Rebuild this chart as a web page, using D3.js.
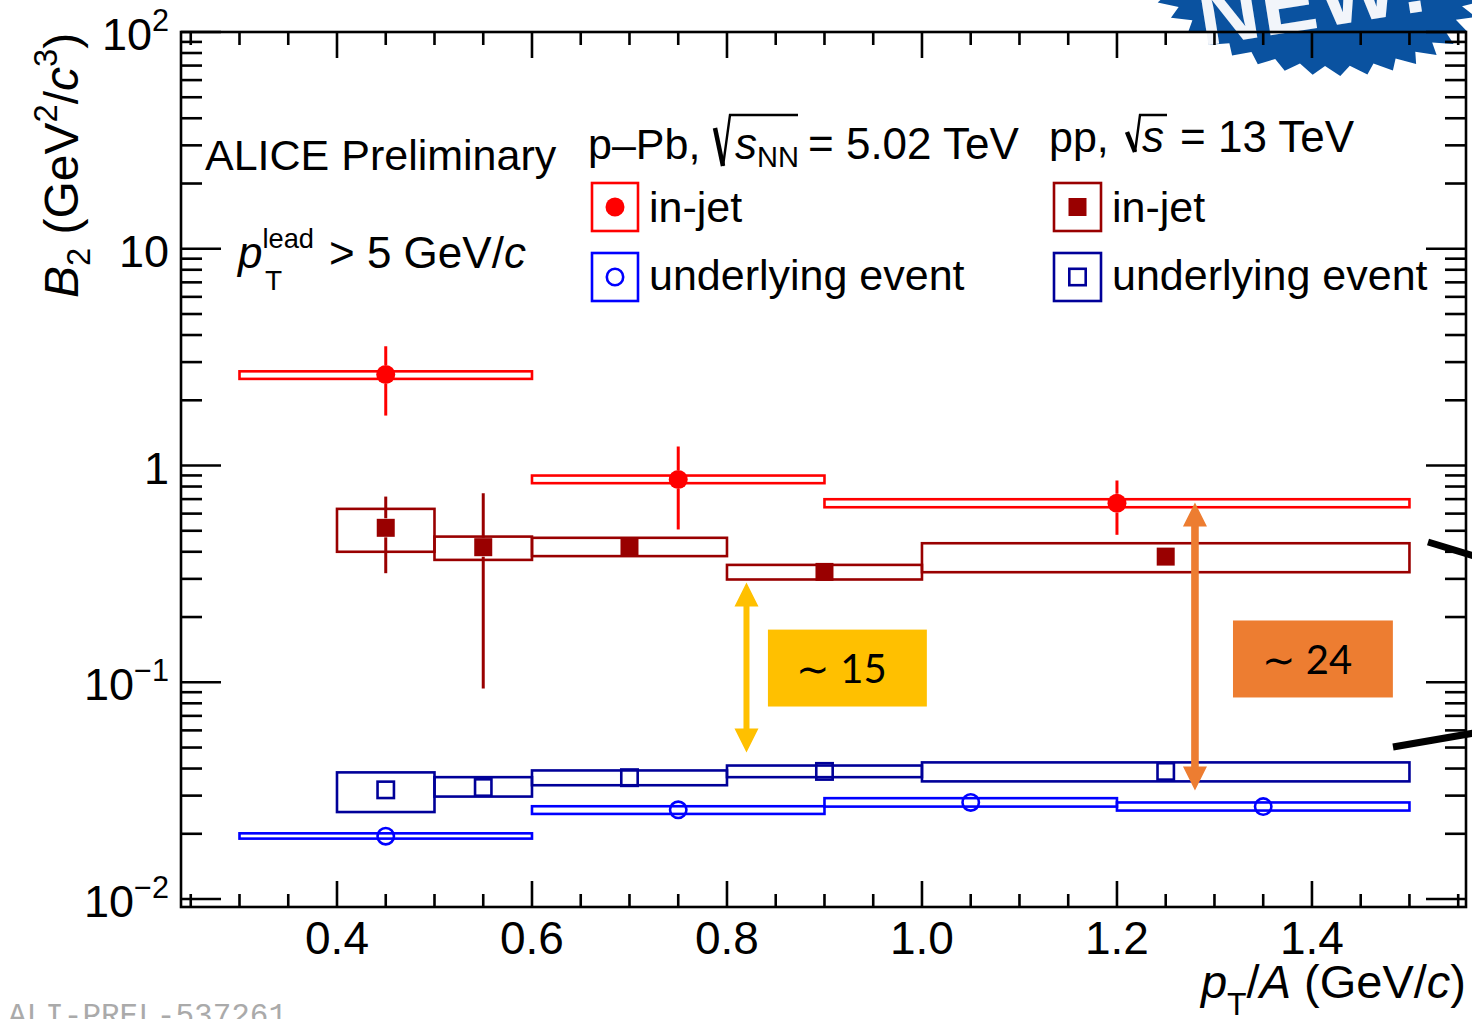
<!DOCTYPE html>
<html>
<head>
<meta charset="utf-8">
<script src="https://cdn.jsdelivr.net/npm/d3@7"></script>
<style>
  html, body { margin: 0; padding: 0; background: #fff; overflow: hidden; }
  svg { display: block; }
</style>
</head>
<body>
<svg id="chart" width="1472" height="1019"></svg>
<script>
// ---------------- data ----------------
// p–Pb, in-jet (filled circles)
const ppbJetX      = [0.45, 0.75, 1.20];
const ppbJetBinLo  = [0.30, 0.60, 0.90];
const ppbJetBinHi  = [0.60, 0.90, 1.50];
const ppbJetB2     = [2.63, 0.862, 0.670];
const ppbJetStatLo = [1.70, 0.507, 0.479];
const ppbJetStatHi = [3.55, 1.224, 0.853];
const ppbJetSysLo  = [2.51, 0.829, 0.642];
const ppbJetSysHi  = [2.72, 0.899, 0.699];

// p–Pb, underlying event (open circles)
const ppbUeX      = [0.45, 0.75, 1.05, 1.35];
const ppbUeBinLo  = [0.30, 0.60, 0.90, 1.20];
const ppbUeBinHi  = [0.60, 0.90, 1.20, 1.50];
const ppbUeB2     = [0.0195, 0.0258, 0.0279, 0.0267];
const ppbUeStatLo = [0.0190, 0.0252, 0.0272, 0.0261];
const ppbUeStatHi = [0.0200, 0.0264, 0.0286, 0.0273];
const ppbUeSysLo  = [0.0190, 0.0247, 0.0267, 0.0256];
const ppbUeSysHi  = [0.0201, 0.0268, 0.0292, 0.0279];

// pp, in-jet (filled squares)
const ppJetX      = [0.45, 0.55, 0.70, 0.90, 1.25];
const ppJetBinLo  = [0.40, 0.50, 0.60, 0.80, 1.00];
const ppJetBinHi  = [0.50, 0.60, 0.80, 1.00, 1.50];
const ppJetB2     = [0.516, 0.420, 0.420, 0.323, 0.380];
const ppJetStatLo = [0.3186, 0.0936, 0.395, 0.305, 0.360];
const ppJetStatHi = [0.719, 0.745, 0.445, 0.341, 0.400];
const ppJetSysLo  = [0.400, 0.367, 0.382, 0.298, 0.322];
const ppJetSysHi  = [0.631, 0.470, 0.464, 0.348, 0.438];

// pp, underlying event (open squares)
const ppUeX      = [0.45, 0.55, 0.70, 0.90, 1.25];
const ppUeBinLo  = [0.40, 0.50, 0.60, 0.80, 1.00];
const ppUeBinHi  = [0.50, 0.60, 0.80, 1.00, 1.50];
const ppUeB2     = [0.0319, 0.0327, 0.0363, 0.0388, 0.0388];
const ppUeStatLo = [0.0310, 0.0318, 0.0354, 0.0379, 0.0379];
const ppUeStatHi = [0.0328, 0.0336, 0.0372, 0.0397, 0.0397];
const ppUeSysLo  = [0.0252, 0.0297, 0.0335, 0.0365, 0.0349];
const ppUeSysHi  = [0.0384, 0.0365, 0.0392, 0.0413, 0.0427];

// axis ticks
const xMajorTicks  = [0.4, 0.6, 0.8, 1.0, 1.2, 1.4];
const xTickLabels  = ["0.4", "0.6", "0.8", "1.0", "1.2", "1.4"];
const yMajorTicks  = [0.01, 0.1, 1, 10, 100];
const yTickMantissa = ["10", "10", "1", "10", "10"];
const yTickExponent = ["\u22122", "\u22121", "", "", "2"];

// ratio annotations (x position, arrow ends, label box, text)
const ratioArrowX    = [0.82, 1.28];
const ratioArrowTop  = [0.289, 0.675];
const ratioArrowBot  = [0.0474, 0.0317];
const ratioBoxX0     = [0.842, 1.319];
const ratioBoxX1     = [1.005, 1.483];
const ratioBoxYTop   = [0.175, 0.1928];
const ratioBoxYBot   = [0.0773, 0.0851];
const ratioText      = ["\u223C 15", "\u223C 24"];
const ratioColors    = ["#ffc000", "#ed7d31"];

// ---------------- layout ----------------
const FONT = "'Liberation Sans', Arial, Helvetica, sans-serif";
const frame = { left: 181, right: 1466, top: 32, bottom: 907 };
const svg = d3.select("#chart");
svg.append("rect").attr("width", 1472).attr("height", 1019).attr("fill", "#fff");

const x = d3.scaleLinear().domain([0.24, 1.558]).range([frame.left, frame.right]);
const y = d3.scaleLog().domain([0.00919, 100]).range([frame.bottom, frame.top]);

// rich text helper: parts = [{t, i (italic), off (baseline offset), s (scale)}]
function rich(g, px, py, parts, size, anchor) {
  const t = g.append("text")
    .attr("x", px).attr("y", py)
    .attr("font-family", FONT)
    .attr("font-size", size)
    .attr("text-anchor", anchor || "start")
    .attr("fill", "#000");
  let cur = 0;
  parts.forEach(p => {
    const off = p.off || 0;
    const ts = t.append("tspan").text(p.t)
      .attr("dy", off - cur)
      .attr("font-size", size * (p.s || 1));
    if (p.i) ts.attr("font-style", "italic");
    cur = off;
  });
  return t;
}

// ---------------- badge (top right) ----------------
const badge = svg.append("g");
{
  const N = 38, pts = [];
  for (let i = 0; i < 2 * N; i++) {
    const a = i * Math.PI / N;
    const r = i % 2 === 0 ? 1 : 0.9;
    pts.push([Math.cos(a) * r, Math.sin(a) * r]);
  }
  badge.append("path")
    .attr("d", d3.line()(pts) + "Z")
    .attr("transform", "translate(1312,-22) rotate(8) scale(170,96)")
    .attr("fill", "#0a52a0");
  badge.append("text")
    .attr("transform", "translate(1203,46) rotate(-9)")
    .attr("font-family", FONT)
    .attr("font-weight", "bold")
    .attr("font-size", 84)
    .attr("letter-spacing", 2)
    .attr("fill", "#f2f5fa")
    .text("NEW!");
}

// ---------------- data drawing ----------------
const series = [
  { name: "ppbJet", color: "#ff0000", marker: "circle", filled: true,
    xs: ppbJetX, lo: ppbJetBinLo, hi: ppbJetBinHi, v: ppbJetB2,
    sLo: ppbJetStatLo, sHi: ppbJetStatHi, yLo: ppbJetSysLo, yHi: ppbJetSysHi },
  { name: "ppbUe", color: "#0000ff", marker: "circle", filled: false,
    xs: ppbUeX, lo: ppbUeBinLo, hi: ppbUeBinHi, v: ppbUeB2,
    sLo: ppbUeStatLo, sHi: ppbUeStatHi, yLo: ppbUeSysLo, yHi: ppbUeSysHi },
  { name: "ppJet", color: "#990000", marker: "square", filled: true,
    xs: ppJetX, lo: ppJetBinLo, hi: ppJetBinHi, v: ppJetB2,
    sLo: ppJetStatLo, sHi: ppJetStatHi, yLo: ppJetSysLo, yHi: ppJetSysHi },
  { name: "ppUe", color: "#000099", marker: "square", filled: false,
    xs: ppUeX, lo: ppUeBinLo, hi: ppUeBinHi, v: ppUeB2,
    sLo: ppUeStatLo, sHi: ppUeStatHi, yLo: ppUeSysLo, yHi: ppUeSysHi }
];

const plot = svg.append("g");

// systematic boxes
series.forEach(s => {
  plot.append("g").selectAll("rect").data(s.v).join("rect")
    .attr("x", (d, i) => x(s.lo[i]))
    .attr("width", (d, i) => x(s.hi[i]) - x(s.lo[i]))
    .attr("y", (d, i) => y(s.yHi[i]))
    .attr("height", (d, i) => y(s.yLo[i]) - y(s.yHi[i]))
    .attr("fill", "none")
    .attr("stroke", s.color)
    .attr("stroke-width", 2.6);
});

function drawMarker(g, cx, cy, s) {
  if (s.marker === "circle") {
    if (s.filled) {
      g.append("circle").attr("cx", cx).attr("cy", cy).attr("r", 9.5).attr("fill", s.color);
    } else {
      g.append("circle").attr("cx", cx).attr("cy", cy).attr("r", 8.2)
        .attr("fill", "none").attr("stroke", s.color).attr("stroke-width", 2.6);
    }
  } else {
    if (s.filled) {
      g.append("rect").attr("x", cx - 9).attr("y", cy - 9).attr("width", 18).attr("height", 18).attr("fill", s.color);
    } else {
      g.append("rect").attr("x", cx - 8.2).attr("y", cy - 8.2).attr("width", 16.4).attr("height", 16.4)
        .attr("fill", "none").attr("stroke", s.color).attr("stroke-width", 2.6);
    }
  }
}

// statistical error bars (drawn outside the marker) and markers
series.forEach(s => {
  const g = plot.append("g");
  const half = 9.5;
  s.v.forEach((v, i) => {
    const cx = x(s.xs[i]), cy = y(v);
    const yt = y(s.sHi[i]), yb = y(s.sLo[i]);
    if (cy - half > yt) g.append("line").attr("x1", cx).attr("x2", cx).attr("y1", yt).attr("y2", cy - half)
      .attr("stroke", s.color).attr("stroke-width", 3);
    if (yb > cy + half) g.append("line").attr("x1", cx).attr("x2", cx).attr("y1", cy + half).attr("y2", yb)
      .attr("stroke", s.color).attr("stroke-width", 3);
    drawMarker(g, cx, cy, s);
  });
});

// ratio annotations
const ann = svg.append("g");
ratioArrowX.forEach((ax, i) => {
  const cx = x(ax), y0 = y(ratioArrowTop[i]), y1 = y(ratioArrowBot[i]);
  const hl = 24, hw = 12, sw = i === 0 ? 3 : 3.8;
  const p = [
    [cx, y0], [cx + hw, y0 + hl], [cx + sw, y0 + hl], [cx + sw, y1 - hl], [cx + hw, y1 - hl],
    [cx, y1], [cx - hw, y1 - hl], [cx - sw, y1 - hl], [cx - sw, y0 + hl], [cx - hw, y0 + hl]
  ];
  ann.append("path").attr("d", d3.line()(p) + "Z").attr("fill", ratioColors[i]);
  const bx0 = x(ratioBoxX0[i]), bx1 = x(ratioBoxX1[i]);
  const by0 = y(ratioBoxYTop[i]), by1 = y(ratioBoxYBot[i]);
  ann.append("rect").attr("x", bx0).attr("y", by0).attr("width", bx1 - bx0).attr("height", by1 - by0)
    .attr("fill", ratioColors[i]);
  ann.append("text")
    .attr("x", (bx0 + bx1) / 2 - 6).attr("y", (by0 + by1) / 2 + 15)
    .attr("text-anchor", "middle")
    .attr("font-family", "Lato, 'Open Sans', sans-serif")
    .attr("font-size", 40)
    .attr("fill", "#000")
    .text(ratioText[i]);
});

// slide decoration strokes on the right edge
ann.append("line").attr("x1", 1428).attr("y1", 542).attr("x2", 1474).attr("y2", 556)
  .attr("stroke", "#000").attr("stroke-width", 7);
ann.append("line").attr("x1", 1393).attr("y1", 747).attr("x2", 1474).attr("y2", 733)
  .attr("stroke", "#000").attr("stroke-width", 7);

// ---------------- frame and ticks ----------------
const axes = svg.append("g").attr("stroke", "#000").attr("stroke-width", 2.6).attr("fill", "none");
axes.append("rect")
  .attr("x", frame.left).attr("y", frame.top)
  .attr("width", frame.right - frame.left).attr("height", frame.bottom - frame.top);

const xMinor = d3.range(5, 32).map(k => k * 0.05).filter(v => v > 0.241 && v < 1.557)
  .filter(v => !xMajorTicks.some(m => Math.abs(m - v) < 1e-6));
const yMinor = [];
[0.01, 0.1, 1, 10].forEach(d => { for (let k = 2; k <= 9; k++) yMinor.push(d * k); });

function xTick(v, len) {
  axes.append("line").attr("x1", x(v)).attr("x2", x(v)).attr("y1", frame.bottom).attr("y2", frame.bottom - len);
  axes.append("line").attr("x1", x(v)).attr("x2", x(v)).attr("y1", frame.top).attr("y2", frame.top + len);
}
function yTick(v, len) {
  axes.append("line").attr("x1", frame.left).attr("x2", frame.left + len).attr("y1", y(v)).attr("y2", y(v));
  axes.append("line").attr("x1", frame.right).attr("x2", frame.right - len).attr("y1", y(v)).attr("y2", y(v));
}
xMajorTicks.forEach(v => xTick(v, 26));
xMinor.forEach(v => xTick(v, 13));
yMajorTicks.forEach(v => yTick(v, 40));
yMinor.forEach(v => yTick(v, 21));

// tick labels
const labels = svg.append("g");
xMajorTicks.forEach((v, i) => {
  labels.append("text")
    .attr("x", x(v)).attr("y", 954)
    .attr("text-anchor", "middle")
    .attr("font-family", FONT).attr("font-size", 46)
    .text(xTickLabels[i]);
});
yMajorTicks.forEach((v, i) => {
  const parts = [{ t: yTickMantissa[i] }];
  if (yTickExponent[i]) parts.push({ t: yTickExponent[i], off: -19, s: 0.68 });
  rich(labels, 169, y(v) + 18, parts, 45, "end");
});

// axis titles
rich(labels, 1466, 998, [
  { t: "p", i: true }, { t: "T", off: 17, s: 0.68 }, { t: "/", off: 0 }, { t: "A", i: true },
  { t: " (GeV/" }, { t: "c", i: true }, { t: ")" }
], 47, "end");

const yTitle = svg.append("g").attr("transform", "translate(78,298) rotate(-90)");
rich(yTitle, 0, 0, [
  { t: "B", i: true }, { t: "2", off: 12, s: 0.68 }, { t: " (GeV", off: 0 }, { t: "2", off: -21, s: 0.68 },
  { t: "/", off: 0 }, { t: "c", i: true }, { t: "3", off: -21, s: 0.68 }, { t: ")", off: 0 }
], 48, "start");

// ---------------- legend and labels ----------------
const leg = svg.append("g");
leg.append("text").attr("x", 205).attr("y", 170).attr("font-family", FONT).attr("font-size", 43)
  .text("ALICE Preliminary");

rich(leg, 238, 268, [
  { t: "p", i: true }, { t: "lead", off: -20, s: 0.62 }
], 44, "start");
rich(leg, 265, 290, [{ t: "T" }], 28, "start");
rich(leg, 329, 268, [{ t: "> 5 GeV/" }, { t: "c", i: true }], 44, "start");

// p–Pb header with radical
leg.append("text").attr("x", 588).attr("y", 159).attr("font-family", FONT).attr("font-size", 43)
  .text("p\u2013Pb,");
leg.append("path").attr("d", "M715,128 L723,166").attr("stroke", "#000").attr("stroke-width", 4.5).attr("fill", "none");
leg.append("path").attr("d", "M723,166 L730,115 L798,115").attr("stroke", "#000").attr("stroke-width", 2.4).attr("fill", "none");
rich(leg, 735, 159, [{ t: "s", i: true }, { t: "NN", off: 8, s: 0.66 }], 44, "start");
leg.append("text").attr("x", 808).attr("y", 159).attr("font-family", FONT).attr("font-size", 44)
  .text("= 5.02 TeV");

// pp header with radical
leg.append("text").attr("x", 1049).attr("y", 152).attr("font-family", FONT).attr("font-size", 43)
  .text("pp,");
leg.append("path").attr("d", "M1127,132 L1135,152").attr("stroke", "#000").attr("stroke-width", 4.5).attr("fill", "none");
leg.append("path").attr("d", "M1135,152 L1140,115 L1167,115").attr("stroke", "#000").attr("stroke-width", 2.4).attr("fill", "none");
rich(leg, 1142, 152, [{ t: "s", i: true }], 44, "start");
leg.append("text").attr("x", 1180).attr("y", 152).attr("font-family", FONT).attr("font-size", 44)
  .text("= 13 TeV");

// legend entries
const legendEntries = [
  { s: series[0], bx: 592, by: 183, tx: 649, ty: 222, label: "in-jet" },
  { s: series[1], bx: 592, by: 253, tx: 649, ty: 290, label: "underlying event" },
  { s: series[2], bx: 1054, by: 183, tx: 1112, ty: 222, label: "in-jet" },
  { s: series[3], bx: 1054, by: 253, tx: 1112, ty: 290, label: "underlying event" }
];
legendEntries.forEach(e => {
  const w = e.s.name.startsWith("ppb") ? 46 : 47;
  leg.append("rect").attr("x", e.bx).attr("y", e.by).attr("width", w).attr("height", 48)
    .attr("fill", "none").attr("stroke", e.s.color).attr("stroke-width", 2.6);
  drawMarker(leg, e.bx + w / 2, e.by + 24, e.s);
  leg.append("text").attr("x", e.tx).attr("y", e.ty).attr("font-family", FONT).attr("font-size", 43)
    .text(e.label);
});

// figure identifier
svg.append("text").attr("x", 8).attr("y", 1025)
  .attr("font-family", "'Liberation Mono', 'DejaVu Sans Mono', monospace")
  .attr("font-size", 31).attr("fill", "#aaaaaa")
  .text("ALI-PREL-537261");
</script>
</body>
</html>
